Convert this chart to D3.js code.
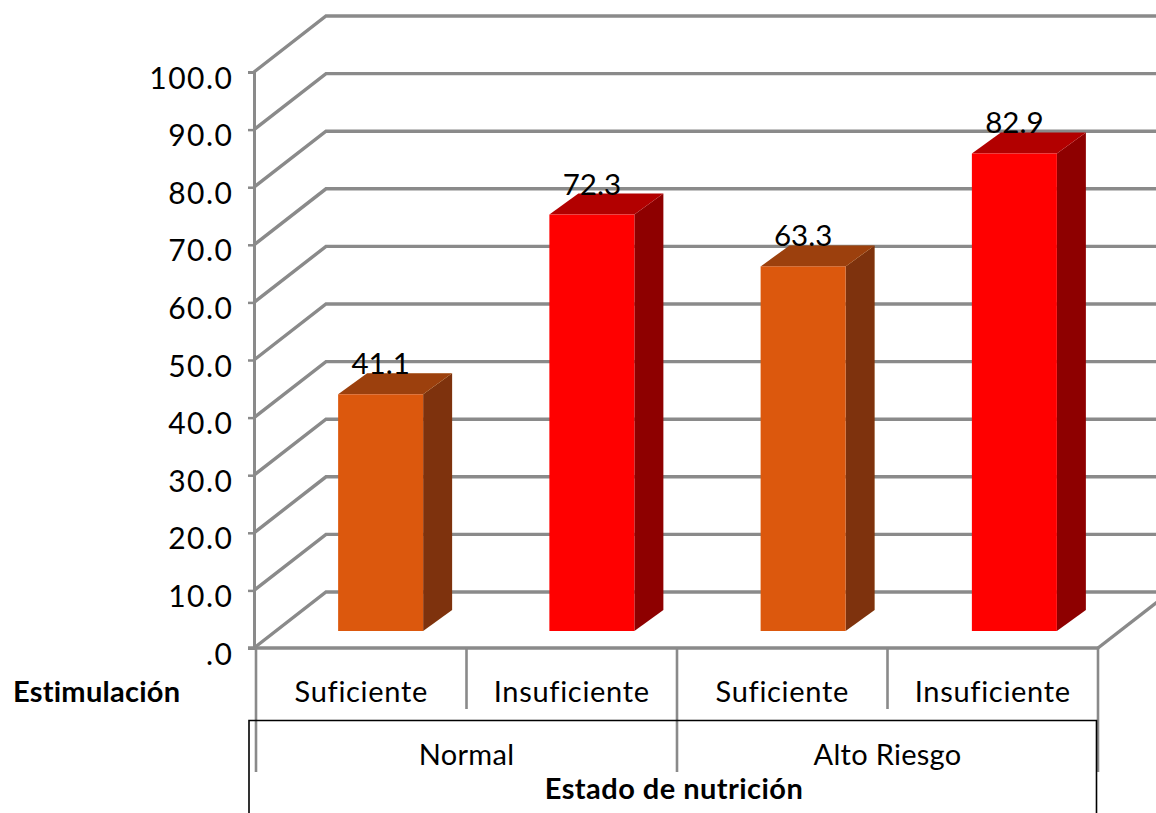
<!DOCTYPE html>
<html>
<head>
<meta charset="utf-8">
<script src="https://cdn.jsdelivr.net/npm/d3@7"></script>
<style>
  html, body { margin: 0; padding: 0; background: #fff; }
  text { font-family: Lato, "Open Sans", sans-serif; fill: #000; }
</style>
</head>
<body>
<div id="chart"></div>
<script>
const estimulacion = ["Suficiente", "Insuficiente", "Suficiente", "Insuficiente"];
const grupos = ["Normal", "Alto Riesgo"];
const valores = [41.1, 72.3, 63.3, 82.9];
const yTicks = [0, 10, 20, 30, 40, 50, 60, 70, 80, 90, 100];
const colorFrente = ["#dc590e", "#ff0000", "#dc590e", "#ff0000"];
const colorTecho = ["#9c3f09", "#b20000", "#9c3f09", "#b20000"];
const colorLado = ["#7e3308", "#8e0000", "#7e3308", "#8e0000"];

const width = 1156;
const height = 813;
const margin = { top: 72, right: 58, bottom: 165, left: 256 };

// 3D offsets: floor depth, bar start inside the floor, bar depth
const wall = { dx: 72, dy: -56 };
const barStartY = -17;
const barDepth = { dx: 29, dy: -21 };
const grey = "#8a8a8a";

const svg = d3.select("#chart")
  .append("svg")
  .attr("width", width)
  .attr("height", height)
  .style("display", "block");

const defs = svg.append("defs");
defs.append("filter").attr("id", "soft")
  .attr("filterUnits", "userSpaceOnUse")
  .attr("x", 0).attr("y", 0).attr("width", width).attr("height", height)
  .append("feGaussianBlur").attr("stdDeviation", 0.7);

const x = d3.scaleBand()
  .domain(d3.range(estimulacion.length))
  .range([margin.left, width - margin.right]);

// Bars sit further back, so their slots are shifted and a bit wider apart
const xBar = d3.scaleBand()
  .domain(d3.range(estimulacion.length))
  .range([margin.left + 19, width - margin.right + 22]);

const xGrupo = d3.scaleBand()
  .domain(grupos)
  .range([margin.left, width - margin.right]);

const y = d3.scaleLinear()
  .domain([0, 100])
  .range([height - margin.bottom, margin.top]);

const barW = 85;

// Grid: diagonal up the side wall, then across the back wall
const grid = svg.append("g").attr("filter", "url(#soft)");
grid.selectAll(".grid")
  .data(yTicks)
  .join("polyline")
  .attr("points", d => {
    const x0 = margin.left - 2, y0 = y(d);
    return `${x0},${y0} ${x0 + wall.dx},${y0 + wall.dy} ${width + 5},${y0 + wall.dy}`;
  })
  .attr("fill", "none")
  .attr("stroke", grey)
  .attr("stroke-width", 3.4);

// Right edge of the floor
grid.append("line")
  .attr("x1", width - margin.right)
  .attr("y1", y(0))
  .attr("x2", width - margin.right + wall.dx)
  .attr("y2", y(0) + wall.dy)
  .attr("stroke", grey)
  .attr("stroke-width", 3.4);

// Axis with its own ticks
const axis = svg.append("g")
  .attr("transform", `translate(${margin.left - 2}, 0)`)
  .call(d3.axisLeft(y)
    .tickValues(yTicks)
    .tickSize(6)
    .tickPadding(16)
    .tickFormat(d => d === 0 ? ".0" : d3.format(".1f")(d)))
  .call(g => g.selectAll("line").attr("stroke", grey).attr("stroke-width", 2.5))
  .call(g => g.select(".domain").attr("stroke", grey).attr("stroke-width", 3))
  .call(g => g.selectAll("text")
    .attr("font-size", 30)
    .attr("letter-spacing", 1.5)
    .attr("fill", "#000")
    .attr("dy", "0.58em")
    .attr("x", -20.5)
    .style("font-family", "Lato")
    .attr("y", -1.4));

// Floor front edge
svg.append("line")
  .attr("x1", margin.left - 8)
  .attr("x2", width - margin.right)
  .attr("y1", y(0))
  .attr("y2", y(0))
  .attr("stroke", grey)
  .attr("stroke-width", 3.4)
  .attr("filter", "url(#soft)");

// Bars
const frontX = i => xBar(i) + xBar.bandwidth() / 2 - barW / 2;
const baseY = y(0) + barStartY;
const topY = d => y(d) + barStartY;

const bars = svg.append("g").attr("filter", "url(#soft)")
  .selectAll(".bar")
  .data(valores)
  .join("g");

bars.append("path")
  .attr("fill", (d, i) => colorLado[i])
  .attr("d", (d, i) => {
    const r = frontX(i) + barW;
    return `M${r},${topY(d)}L${r + barDepth.dx},${topY(d) + barDepth.dy}` +
      `L${r + barDepth.dx},${baseY + barDepth.dy}L${r},${baseY}Z`;
  });

bars.append("path")
  .attr("fill", (d, i) => colorTecho[i])
  .attr("d", (d, i) => {
    const l = frontX(i), t = topY(d);
    return `M${l},${t}L${l + barDepth.dx},${t + barDepth.dy}` +
      `L${l + barW + barDepth.dx},${t + barDepth.dy}L${l + barW},${t}Z`;
  });

bars.append("rect")
  .attr("x", (d, i) => frontX(i))
  .attr("y", d => topY(d))
  .attr("width", barW)
  .attr("height", d => baseY - topY(d))
  .attr("fill", (d, i) => colorFrente[i]);

// Value labels
svg.selectAll(".valor")
  .data(valores)
  .join("text")
  .attr("class", "valor")
  .attr("x", (d, i) => frontX(i) + barW / 2)
  .attr("y", d => topY(d) - 20)
  .attr("text-anchor", "middle")
  .attr("font-size", 29.5)
  .text(d => d.toFixed(1));

// Category table: grey separators
const sepLargo = [772, 709, 772, 709, 772];
svg.append("g").attr("filter", "url(#soft)")
  .selectAll("line")
  .data(sepLargo)
  .join("line")
  .attr("x1", (d, i) => i < 4 ? x(i) : x(3) + x.bandwidth())
  .attr("x2", (d, i) => i < 4 ? x(i) : x(3) + x.bandwidth())
  .attr("y1", y(0))
  .attr("y2", d => d)
  .attr("stroke", grey)
  .attr("stroke-width", 2.6);

// Black box round the group row
svg.append("path")
  .attr("d", "M249,813V720.5H1096.5V813")
  .attr("fill", "none")
  .attr("stroke", "#000")
  .attr("stroke-width", 1.6);

svg.selectAll(".cat")
  .data(estimulacion)
  .join("text")
  .attr("class", "cat")
  .attr("x", (d, i) => x(i) + x.bandwidth() / 2)
  .attr("y", 701.5)
  .attr("text-anchor", "middle")
  .attr("font-size", 29)
  .attr("letter-spacing", 0.7)
  .text(d => d);

svg.selectAll(".grupo")
  .data(grupos)
  .join("text")
  .attr("class", "grupo")
  .attr("x", d => xGrupo(d) + xGrupo.bandwidth() / 2)
  .attr("y", 765)
  .attr("text-anchor", "middle")
  .attr("font-size", 29)
  .attr("letter-spacing", 0.3)
  .text(d => d);

svg.append("text")
  .attr("x", 13)
  .attr("y", 702)
  .attr("font-size", 29)
  .attr("font-weight", 700)
  .attr("letter-spacing", 0.25)
  .text("Estimulación");

svg.append("text")
  .attr("x", 674)
  .attr("y", 799)
  .attr("text-anchor", "middle")
  .attr("font-size", 29)
  .attr("font-weight", 700)
  .attr("letter-spacing", 0.45)
  .text("Estado de nutrición");
</script>
</body>
</html>
